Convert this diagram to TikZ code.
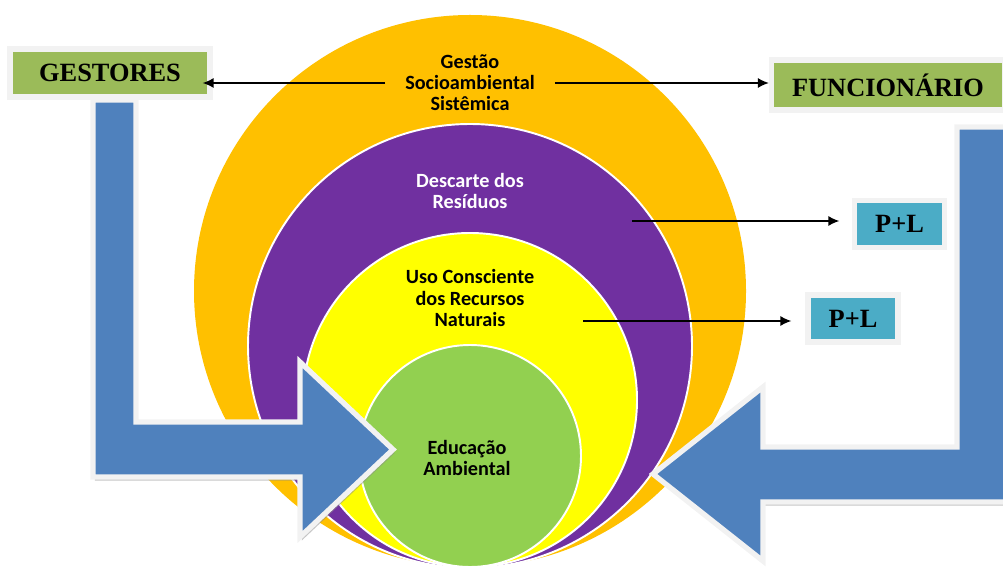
\documentclass[tikz,border=0pt]{standalone}
\usepackage{fontspec}
\setmainfont{Liberation Serif}
\newfontfamily\ringfont{Carlito}
\usetikzlibrary{arrows.meta,shadows}
\definecolor{ringorange}{HTML}{FFC000}
\definecolor{ringpurple}{HTML}{7030A0}
\definecolor{ringyellow}{HTML}{FFFF00}
\definecolor{ringgreen}{HTML}{92D050}
\definecolor{boxgreen}{HTML}{9BBB59}
\definecolor{boxteal}{HTML}{4BACC6}
\definecolor{flowblue}{HTML}{4F81BD}
\definecolor{framegrey}{HTML}{F2F2F2}

\begin{document}
\begin{tikzpicture}[
    x=0.02cm, y=-0.02cm,
    ring/.style={draw=white, line width=1.1pt},
    ringtext/.style={
        font=\ringfont\bfseries\fontsize{11.5}{12}\selectfont,
        align=center
    },
    labelbox/.style={
        rectangle,
        draw=framegrey,
        line width=3pt,
        inner sep=0pt,
        font=\bfseries\fontsize{15}{16}\selectfont,
        drop shadow={shadow xshift=1pt, shadow yshift=-1.5pt, fill=black!45}
    },
    flow/.style={
        fill=flowblue,
        draw=framegrey,
        line width=3pt,
        drop shadow={shadow xshift=1pt, shadow yshift=-2pt, fill=black!45}
    },
    link/.style={-{Latex[length=2.2mm, width=2mm]}, line width=0.8pt}
]
    \useasboundingbox (0,0) rectangle (1003,567);
    \clip (0,0) rectangle (1003,567);

    % nested circles, all touching at the bottom
    \fill[ringorange] (470,291) circle (276);
    \filldraw[ring, fill=ringpurple] (470,346) circle (222);
    \filldraw[ring, fill=ringyellow] (470,400) circle (167);
    \filldraw[ring, fill=ringgreen] (470,456) circle (111);

    \node[ringtext, minimum width=3.38cm] (gestao) at (470,83)
        {Gestão\\Socioambiental\\Sistêmica};
    \node[ringtext, text=white] (descarte) at (470,191)
        {Descarte dos\\Resíduos};
    \node[ringtext] (uso) at (470,298)
        {Uso Consciente\\dos Recursos\\Naturais};
    \node[ringtext] (educacao) at (467,458)
        {Educação\\Ambiental};

    % bent arrows
    \draw[flow] (93,100) -- (136,100) -- (136,422) -- (300,422)
        -- (300,362) -- (393,449.5) -- (300,537) -- (300,477)
        -- (93,477) -- cycle;
    \draw[flow] (957,127) -- (1012,127) -- (1012,502) -- (763,502)
        -- (763,561) -- (653,474) -- (763,387) -- (763,447)
        -- (957,447) -- cycle;

    \node[labelbox, fill=boxgreen, minimum width=4cm, minimum height=0.96cm]
        (gestores) at (110,73) {GESTORES};
    \node[labelbox, fill=boxgreen, minimum width=4.66cm, minimum height=1cm]
        (funcionario) at (888,85) {FUNCIONÁRIO};
    \node[labelbox, fill=boxteal, minimum width=1.8cm, minimum height=0.94cm]
        (plA) at (899.5,224) {P+L};
    \node[labelbox, fill=boxteal, minimum width=1.8cm, minimum height=0.94cm]
        (plB) at (853,318.5) {P+L};

    \coordinate (descarteout) at (632,221);
    \coordinate (usoout) at (583,321);

    \draw[link, shorten >=-2mm] (gestao.west) -- (gestao.west -| gestores.east);
    \draw[link] (gestao.east) -- (gestao.east -| funcionario.west);
    \draw[link, shorten >=2.5mm] (descarteout) -- (descarteout -| plA.west);
    \draw[link, shorten >=2.8mm] (usoout) -- (usoout -| plB.west);
\end{tikzpicture}
\end{document}
